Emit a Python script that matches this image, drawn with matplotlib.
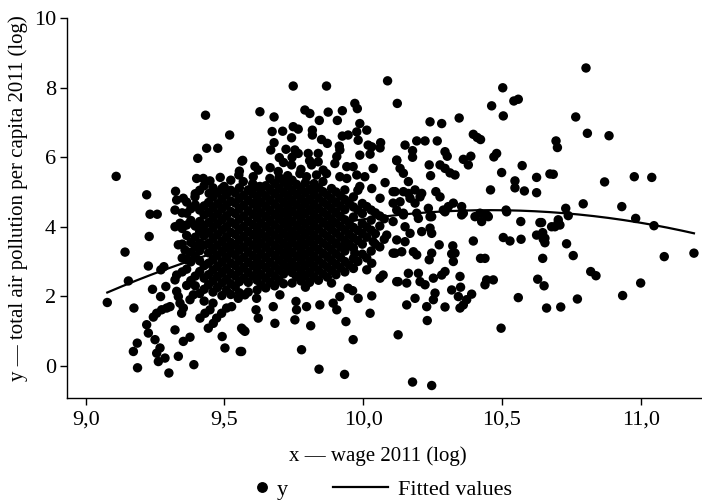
import numpy as np
import matplotlib
matplotlib.use("Agg")
import matplotlib.pyplot as plt
from matplotlib.lines import Line2D

plt.rcParams["font.family"] = ["Liberation Serif", "DejaVu Serif"]

# (wage_log, pollution_log), by region
left_points = [
    (9.432, 7.21), (9.519, 6.64), (9.436, 6.26), (9.476, 6.26), (9.404, 5.97),
    (9.563, 5.89), (9.110, 5.45), (9.400, 5.39), (9.424, 5.39), (9.448, 5.32),
    (9.485, 5.42), (9.552, 5.49), (9.220, 4.92), (9.324, 5.02), (9.499, 5.16),
    (9.445, 4.96), (9.232, 4.36), (9.258, 4.36), (9.328, 4.77), (9.352, 4.82),
    (9.394, 4.86), (9.322, 4.48), (9.364, 4.39),
    (9.229, 3.72), (9.142, 3.27), (9.226, 2.87), (9.154, 2.44), (9.078, 1.82),
    (9.174, 1.66), (9.241, 2.20), (9.271, 2.76), (9.282, 2.85), (9.289, 2.28),
    (9.270, 1.99), (9.304, 1.70), (9.292, 1.66), (9.274, 1.61), (9.256, 1.51),
    (9.244, 1.40), (9.220, 1.18), (9.226, 0.94), (9.250, 0.75), (9.268, 0.51),
    (9.256, 0.36), (9.286, 0.22), (9.262, 0.12), (9.186, 0.65), (9.172, 0.41),
    (9.187, -0.06), (9.300, -0.21), (9.390, 0.03), (9.334, 0.27), (9.352, 0.70),
    (9.376, 0.82), (9.322, 1.03), (9.346, 1.51), (9.352, 1.66), (9.340, 1.80),
    (9.334, 1.99), (9.328, 2.14), (9.376, 1.90), (9.388, 2.04), (9.412, 1.37),
    (9.430, 1.51), (9.448, 1.61), (9.442, 1.08), (9.460, 1.22), (9.472, 1.37),
    (9.490, 1.51), (9.508, 1.66), (9.526, 1.70), (9.492, 0.84), (9.502, 0.51),
    (9.557, 0.41), (9.562, 1.08), (9.574, 0.99), (9.550, 1.94), (9.322, 4.00),
    (9.340, 4.10), (9.334, 3.48), (9.358, 3.33), (9.364, 3.05), (9.328, 2.61),
    (9.322, 2.47), (9.418, 3.91), (9.412, 3.53),
]

upper_points = [
    (9.748, 8.05), (9.868, 8.05), (10.088, 8.20), (10.123, 7.55), (9.628, 7.31),
    (9.679, 7.16), (9.790, 7.36), (9.808, 7.26), (9.874, 7.30), (9.925, 7.34),
    (9.970, 7.55), (9.979, 7.40), (9.842, 7.06), (9.907, 7.06), (9.748, 6.88),
    (9.766, 6.81), (9.672, 6.74), (9.710, 6.75), (9.817, 6.78), (9.817, 6.64),
    (9.988, 6.97), (10.013, 6.78), (9.977, 6.73), (9.925, 6.61), (9.946, 6.64),
    (9.850, 6.51), (9.871, 6.40), (9.742, 6.56), (9.679, 6.42), (9.667, 6.21),
    (9.722, 6.23), (9.754, 6.21), (9.766, 6.11), (9.982, 6.49), (10.018, 6.35),
    (10.063, 6.42), (10.061, 6.27), (10.031, 6.30), (9.914, 6.32), (9.916, 6.21),
    (9.698, 5.99), (9.802, 6.11), (9.838, 6.11), (9.905, 6.02), (9.898, 5.82),
    (9.988, 6.06), (10.025, 6.09), (9.566, 5.91), (10.121, 5.92), (9.742, 5.78),
    (9.814, 5.78), (9.838, 5.87), (9.856, 5.63), (9.610, 5.74), (9.622, 5.63),
    (9.604, 5.44), (9.694, 5.59), (9.664, 5.39), (9.941, 5.73), (9.964, 5.73),
    (9.977, 5.49), (10.006, 5.44), (10.036, 5.68), (10.079, 5.27), (10.108, 5.01),
    (9.772, 5.53), (9.796, 5.44), (9.832, 5.49), (9.868, 5.53), (9.916, 5.44),
    (9.941, 5.39), (9.568, 5.30), (9.592, 5.06), (9.628, 5.16), (9.988, 5.16),
    (10.031, 5.10), (10.061, 4.82),
]

lower_points = [
    (9.568, 1.03), (9.562, 0.41), (9.778, 0.46), (9.841, -0.10), (9.933, -0.25),
    (9.964, 0.75), (10.126, 0.89), (9.682, 1.22), (9.622, 1.37), (9.614, 1.61),
    (9.754, 1.32), (9.760, 1.61), (9.811, 1.15), (9.905, 1.61), (9.938, 1.27),
    (9.892, 1.80), (10.025, 1.51), (9.982, 1.94), (10.031, 2.01), (9.916, 1.99),
    (9.962, 2.16), (9.796, 1.70), (9.844, 1.75), (9.758, 1.85), (9.700, 2.04),
    (9.676, 1.70), (9.616, 1.94), (9.574, 2.04), (10.121, 2.42), (10.115, 3.24),
    (10.085, 3.76), (10.061, 2.52), (10.013, 2.76), (9.946, 2.23), (9.886, 2.38),
    (9.941, 3.43), (9.970, 3.24), (10.036, 3.57), (10.031, 2.95), (10.072, 2.61),
]

right_upper_points = [
    (10.503, 8.00), (10.543, 7.62), (10.559, 7.67), (10.463, 7.48), (10.505, 7.19),
    (10.241, 7.02), (10.283, 6.97), (10.346, 7.13), (10.397, 6.66), (10.411, 6.57),
    (10.423, 6.51), (10.151, 6.35), (10.193, 6.47), (10.223, 6.47), (10.267, 6.47),
    (10.178, 6.19), (10.178, 6.00), (10.295, 6.16), (10.303, 6.03), (10.121, 5.90),
    (10.133, 5.68), (10.145, 5.54), (10.163, 5.30), (10.361, 5.94), (10.388, 6.03),
    (10.379, 5.78), (10.481, 6.11), (10.471, 6.01), (10.238, 5.78), (10.277, 5.78),
    (10.295, 5.68), (10.313, 5.55), (10.331, 5.49), (10.243, 5.47), (10.573, 5.76),
    (10.499, 5.56), (10.625, 5.42), (10.547, 5.32), (10.547, 5.12), (10.581, 5.03),
    (10.625, 4.98), (10.459, 5.06), (10.673, 5.52), (10.115, 5.01), (10.145, 5.01),
    (10.163, 4.96), (10.187, 5.06), (10.211, 4.96), (10.108, 4.68), (10.133, 4.72),
    (10.169, 4.82), (10.187, 4.68), (10.205, 4.86), (10.262, 5.01), (10.277, 4.86),
    (10.235, 4.53), (10.289, 4.48), (10.307, 4.58), (10.325, 4.68), (10.355, 4.58),
    (10.361, 4.39), (10.515, 4.48), (10.121, 4.48), (10.145, 4.39), (10.193, 4.39),
    (10.247, 4.29), (10.421, 4.39), (10.445, 4.34),
]

right_lower_points = [
    (10.145, 4.34), (10.199, 4.24), (10.241, 4.29), (10.295, 4.43), (10.355, 4.34),
    (10.403, 4.29), (10.427, 4.15), (10.451, 4.29), (10.517, 4.43), (10.108, 4.15),
    (10.151, 4.00), (10.169, 3.81), (10.151, 3.57), (10.121, 3.62), (10.108, 3.24),
    (10.139, 3.28), (10.181, 3.28), (10.193, 3.19), (10.211, 3.86), (10.247, 3.81),
    (10.241, 3.96), (10.274, 3.48), (10.323, 3.45), (10.331, 3.24), (10.319, 3.22),
    (10.325, 3.00), (10.247, 3.24), (10.238, 3.05), (10.397, 3.59), (10.423, 3.09),
    (10.439, 3.09), (10.505, 3.69), (10.529, 3.59), (10.569, 3.64), (10.568, 4.15),
    (10.637, 4.12), (10.679, 4.00), (10.625, 3.76), (10.649, 3.64), (10.647, 3.09),
    (10.126, 2.42), (10.157, 2.38), (10.163, 2.66), (10.199, 2.66), (10.205, 2.42),
    (10.223, 2.33), (10.253, 2.52), (10.283, 2.61), (10.295, 2.71), (10.349, 2.57),
    (10.319, 2.18), (10.351, 2.26), (10.343, 1.99), (10.391, 2.06), (10.373, 1.90),
    (10.361, 1.75), (10.349, 1.66), (10.259, 2.09), (10.253, 1.90), (10.229, 1.70),
    (10.187, 1.94), (10.157, 1.75), (10.295, 1.69), (10.439, 2.33), (10.445, 2.47),
    (10.469, 2.47), (10.231, 1.30), (10.497, 1.08), (10.559, 1.96), (10.629, 2.49),
    (10.652, 2.30), (10.661, 1.66), (10.178, -0.47), (10.247, -0.57),
]

far_right_points = [
    (10.803, 8.57), (10.766, 7.16), (10.808, 6.69), (10.886, 6.62), (10.695, 6.47),
    (10.700, 6.28), (10.685, 5.51), (10.870, 5.29), (10.977, 5.44), (11.040, 5.42),
    (10.730, 4.53), (10.793, 4.66), (10.932, 4.58), (10.982, 4.24), (10.739, 4.32),
    (10.703, 4.20), (11.048, 4.03), (10.643, 4.12), (10.691, 4.00), (10.709, 4.05),
    (10.703, 4.12), (10.647, 3.83), (10.655, 3.67), (10.655, 3.54), (10.733, 3.51),
    (10.757, 3.17), (11.085, 3.14), (11.192, 3.24), (10.820, 2.71), (10.839, 2.59),
    (11.000, 2.38), (10.935, 2.02), (10.772, 1.92), (10.712, 1.69),
]

# dense centre of the cloud, column by column
core_columns = [
    (9.348, [2.70, 3.10, 3.50, 3.95, 4.40]),
    (9.364, [2.31, 2.78, 3.08, 3.75, 4.05, 4.71]),
    (9.379, [2.45, 2.99, 3.27, 3.55, 4.18, 4.52]),
    (9.395, [2.30, 2.58, 3.15, 3.44, 3.70, 4.02, 4.63, 4.95]),
    (9.411, [2.08, 2.71, 3.02, 3.31, 3.86, 4.15, 4.48, 5.05]),
    (9.427, [1.86, 2.20, 2.52, 2.88, 3.47, 3.74, 4.03, 4.34, 4.60, 5.18]),
    (9.443, [2.33, 2.62, 2.95, 3.25, 3.52, 3.83, 4.12, 4.41, 4.70]),
    (9.459, [1.80, 2.12, 2.44, 2.75, 3.06, 3.38, 3.66, 3.96, 4.25, 4.55, 4.86, 5.12]),
    (9.475, [2.25, 2.57, 2.86, 3.18, 3.47, 3.77, 4.08, 4.37, 4.66, 4.98]),
    (9.491, [2.02, 2.38, 2.68, 2.99, 3.29, 3.58, 3.90, 4.20, 4.51, 4.80, 5.10]),
    (9.507, [2.18, 2.49, 2.80, 3.11, 3.40, 3.70, 4.00, 4.31, 4.62, 4.92]),
    (9.523, [2.05, 2.36, 2.66, 2.96, 3.26, 3.55, 3.84, 4.14, 4.44, 4.74, 5.05, 5.34]),
    (9.539, [2.27, 2.58, 2.88, 3.18, 3.47, 3.78, 4.07, 4.38, 4.68, 4.97]),
    (9.554, [2.10, 2.42, 2.72, 3.03, 3.33, 3.62, 3.92, 4.22, 4.52, 4.82, 5.12, 5.60]),
    (9.570, [2.52, 2.83, 3.12, 3.42, 3.72, 4.01, 4.31, 4.62, 4.91]),
    (9.586, [2.12, 2.40, 2.68, 2.98, 3.28, 3.57, 3.86, 4.16, 4.46, 4.76, 5.06]),
    (9.602, [2.58, 2.88, 3.17, 3.47, 3.77, 4.06, 4.36, 4.66, 4.95, 5.24]),
    (9.618, [2.18, 2.46, 2.76, 3.06, 3.36, 3.65, 3.95, 4.25, 4.54, 4.84, 5.14]),
    (9.633, [2.32, 2.62, 2.92, 3.22, 3.52, 3.81, 4.11, 4.40, 4.70, 5.00]),
    (9.649, [2.24, 2.52, 2.82, 3.11, 3.41, 3.70, 4.00, 4.30, 4.59, 4.88, 5.18]),
    (9.665, [2.40, 2.70, 2.98, 3.28, 3.58, 3.88, 4.18, 4.47, 4.77, 5.07, 5.70]),
    (9.681, [2.30, 2.58, 2.87, 3.17, 3.46, 3.76, 4.05, 4.35, 4.65, 4.95, 5.25]),
    (9.697, [2.46, 2.76, 3.05, 3.35, 3.64, 3.94, 4.24, 4.53, 4.83, 5.12, 5.42]),
    (9.713, [2.36, 2.64, 2.93, 3.23, 3.52, 3.82, 4.12, 4.41, 4.71, 5.00, 5.30, 5.85]),
    (9.728, [2.80, 3.10, 3.40, 3.70, 3.99, 4.29, 4.58, 4.88, 5.18, 5.47]),
    (9.744, [2.38, 2.68, 2.97, 3.27, 3.57, 3.86, 4.16, 4.46, 4.76, 5.05, 5.34, 6.00]),
    (9.760, [2.56, 2.85, 3.15, 3.45, 3.74, 4.04, 4.34, 4.63, 4.93, 5.22]),
    (9.776, [2.44, 2.72, 3.02, 3.32, 3.61, 3.91, 4.21, 4.50, 4.80, 5.10, 5.65]),
    (9.792, [2.26, 2.58, 2.88, 3.18, 3.48, 3.78, 4.08, 4.38, 4.67, 4.97, 5.27]),
    (9.807, [2.40, 2.70, 3.00, 3.30, 3.60, 3.90, 4.19, 4.49, 4.79, 5.08, 5.90]),
    (9.823, [2.56, 2.86, 3.16, 3.46, 3.76, 4.06, 4.36, 4.65, 4.95, 5.24]),
    (9.839, [2.46, 2.75, 3.04, 3.34, 3.64, 3.94, 4.24, 4.53, 4.83, 5.12]),
    (9.855, [2.64, 2.93, 3.23, 3.53, 3.82, 4.12, 4.42, 4.71, 5.01, 5.30]),
    (9.871, [2.55, 2.84, 3.14, 3.44, 3.73, 4.03, 4.32, 4.62, 4.91]),
    (9.886, [2.74, 3.03, 3.33, 3.62, 3.92, 4.22, 4.51, 4.80, 5.10]),
    (9.902, [2.62, 2.92, 3.22, 3.52, 3.82, 4.11, 4.41, 4.70, 5.00]),
    (9.918, [2.82, 3.12, 3.42, 3.71, 4.01, 4.30, 4.60, 4.89]),
    (9.934, [2.70, 3.00, 3.30, 3.60, 3.90, 4.20, 4.49, 4.78, 5.06]),
    (9.950, [2.90, 3.50, 3.79, 4.09, 4.68]),
    (9.965, [2.80, 3.09, 3.39, 3.68, 3.98, 4.28, 4.57, 4.86]),
    (9.981, [3.00, 3.60, 3.89, 4.48, 5.05]),
    (9.997, [3.21, 3.50, 3.80, 4.09, 4.38, 4.67]),
    (10.013, [3.10, 3.70, 3.99, 4.58]),
    (10.029, [3.30, 3.90, 4.19, 4.48]),
    (10.044, [3.50, 3.80, 4.40]),
    (10.060, [3.42, 4.02, 4.31]),
    (10.076, [3.64, 4.23]),
]

fit_read_x = [9.078, 9.352, 10.637, 11.048, 11.180]
fit_read_y = [2.11, 2.95, 4.44, 4.05, 3.83]

y_ticks = [0, 2, 4, 6, 8, 10]
x_ticks = [9.0, 9.5, 10.0, 10.5, 11.0]
x_ticklabels = ["9,0", "9,5", "10,0", "10,5", "11,0"]

pairs = (left_points + upper_points + lower_points + right_upper_points
         + right_lower_points + far_right_points)
for cx, ys in core_columns:
    pairs += [(cx, cy) for cy in ys]
wage = np.array([p[0] for p in pairs])
pollution = np.array([p[1] for p in pairs])

# quadratic curve through the read fitted values
coef = np.polyfit(fit_read_x, fit_read_y, 2)
fit_x = np.linspace(wage.min(), wage.max(), 200)
fit_y = np.polyval(coef, fit_x)

fig = plt.figure(figsize=(7.02, 5.0), dpi=100)
ax = fig.add_axes([0.0959, 0.2034, 0.9037, 0.76])

ax.scatter(wage, pollution, s=46, color="black", edgecolors="none", zorder=2)
ax.plot(fit_x, fit_y, color="black", lw=1.6, zorder=3)

ax.set_xlim(8.934, 11.22)
ax.set_ylim(-0.938, 10.0)
ax.set_xticks(x_ticks)
ax.set_xticklabels(x_ticklabels)
ax.set_yticks(y_ticks)

for side in ["top", "right"]:
    ax.spines[side].set_visible(False)
for side in ["left", "bottom"]:
    ax.spines[side].set_linewidth(1.0)

ax.tick_params(direction="out", length=5, width=1.0, labelsize=16, colors="black")
ax.tick_params(axis="x", pad=4)
ax.tick_params(axis="y", pad=3)

ax.set_xlabel("x — wage 2011 (log)", fontsize=15)
ax.set_ylabel("y — total air pollution per capita 2011 (log)", fontsize=15)
ax.xaxis.set_label_coords(0.49, -0.125)
ax.yaxis.set_label_coords(-0.062, 0.526)

h_dot = Line2D([], [], marker="o", ls="none", color="black", markersize=6.8)
h_fit = Line2D([], [], color="black", lw=1.6)
leg1 = ax.legend([h_dot], ["y"], loc="center left", bbox_to_anchor=(0.294, -0.2413),
                 frameon=False, fontsize=16, handlelength=0.7, handletextpad=0.34,
                 borderpad=0, borderaxespad=0)
ax.add_artist(leg1)
ax.legend([h_fit], ["Fitted values"], loc="center left", bbox_to_anchor=(0.419, -0.2413),
          frameon=False, fontsize=16, handlelength=2.48, handletextpad=0.45,
          borderpad=0, borderaxespad=0)

fig.savefig("out.png", dpi=100)
